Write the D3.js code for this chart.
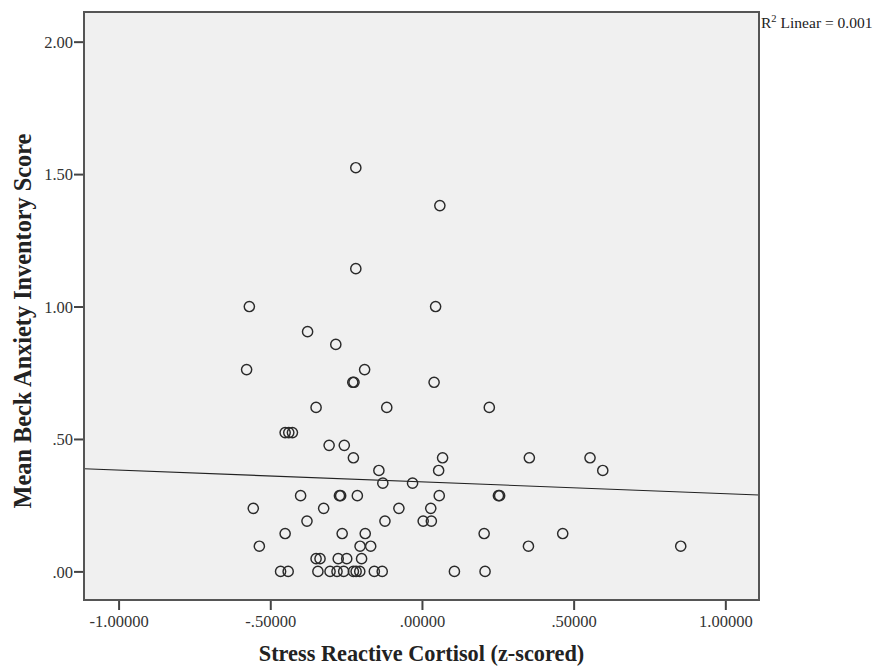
<!DOCTYPE html>
<html>
<head>
<meta charset="utf-8">
<script src="https://cdn.jsdelivr.net/npm/d3@7/dist/d3.min.js"></script>
<style>
  html, body { margin: 0; padding: 0; background: #fff; }
  svg { display: block; }
</style>
</head>
<body>
<svg id="chart" width="877" height="669"></svg>
<script>
// ---- Data ----
const cortisol = [
  -0.218, 0.059, -0.218, -0.569, 0.045, -0.377, -0.284, -0.578, -0.189,
  -0.228, -0.224, 0.040, -0.349, -0.116, 0.222,
  -0.451, -0.439, -0.427,
  -0.306, -0.256, -0.226, 0.068, 0.354, 0.554,
  -0.142, 0.055, 0.596,
  -0.129, -0.031,
  -0.400, -0.272, -0.268, -0.213, 0.057, 0.252, 0.256,
  -0.556, -0.324, -0.076, 0.029,
  -0.379, -0.122, 0.004, 0.031,
  -0.451, -0.263, -0.187, 0.205, 0.464,
  -0.536, -0.204, -0.169, 0.351, 0.853,
  -0.349, -0.336, -0.276, -0.248, -0.199,
  -0.466, -0.441, -0.343, -0.303, -0.280, -0.258, -0.226, -0.217, -0.205,
  -0.157, -0.131, 0.107, 0.208
];
const beckScore = [
  1.524, 1.381, 1.143, 1.000, 1.000, 0.905, 0.857, 0.762, 0.762,
  0.714, 0.714, 0.714, 0.619, 0.619, 0.619,
  0.524, 0.524, 0.524,
  0.476, 0.476, 0.429, 0.429, 0.429, 0.429,
  0.381, 0.381, 0.381,
  0.333, 0.333,
  0.286, 0.286, 0.286, 0.286, 0.286, 0.286, 0.286,
  0.238, 0.238, 0.238, 0.238,
  0.190, 0.190, 0.190, 0.190,
  0.143, 0.143, 0.143, 0.143, 0.143,
  0.095, 0.095, 0.095, 0.095, 0.095,
  0.048, 0.048, 0.048, 0.048, 0.048,
  0, 0, 0, 0, 0, 0, 0, 0, 0,
  0, 0, 0, 0
];
const xTicks = [-1.0, -0.5, 0.0, 0.5, 1.0];
const xTickLabels = ["-1.00000", "-.50000", ".00000", ".50000", "1.00000"];
const yTicks = [0, 0.5, 1.0, 1.5, 2.0];
const yTickLabels = [".00", ".50", "1.00", "1.50", "2.00"];
const fitIntercept = 0.338;
const fitSlope = -0.0445;
const rSquaredLabel = "Linear = 0.001";
const xTitle = "Stress Reactive Cortisol (z-scored)";
const yTitle = "Mean Beck Anxiety Inventory Score";

// ---- Layout ----
const svg = d3.select("#chart");
const pLeft = 84, pRight = 759, pTop = 12, pBottom = 600;
const x = d3.scaleLinear().domain([-1.114, 1.111]).range([pLeft, pRight]);
const y = d3.scaleLinear().domain([-0.108, 2.112]).range([pBottom, pTop]);
const serif = "'Liberation Serif', 'Times New Roman', serif";
const dark = "#333";

// plot background
svg.append("rect")
  .attr("x", pLeft).attr("y", pTop)
  .attr("width", pRight - pLeft).attr("height", pBottom - pTop)
  .attr("fill", "#f0f0f0");

// clip for marks
svg.append("clipPath").attr("id", "plotclip")
  .append("rect").attr("x", pLeft).attr("y", pTop)
  .attr("width", pRight - pLeft).attr("height", pBottom - pTop);

// fit line
const g = svg.append("g").attr("clip-path", "url(#plotclip)");
const xd = x.domain();
g.append("line")
  .attr("x1", x(xd[0])).attr("y1", y(fitIntercept + fitSlope * xd[0]))
  .attr("x2", x(xd[1])).attr("y2", y(fitIntercept + fitSlope * xd[1]))
  .attr("stroke", "#222").attr("stroke-width", 1.1);

// points
g.selectAll("circle.pt")
  .data(cortisol.map((c, i) => [c, beckScore[i]]))
  .join("circle")
  .attr("class", "pt")
  .attr("cx", d => x(d[0]))
  .attr("cy", d => y(d[1]))
  .attr("r", 5.1)
  .attr("fill", "none")
  .attr("stroke", "#2a2a2a")
  .attr("stroke-width", 1.45);

// axes
const xAxis = d3.axisBottom(x).tickValues(xTicks)
  .tickFormat((d, i) => xTickLabels[i]).tickSize(10).tickSizeOuter(0);
const yAxis = d3.axisLeft(y).tickValues(yTicks)
  .tickFormat((d, i) => yTickLabels[i]).tickSize(10).tickSizeOuter(0);

const gx = svg.append("g").attr("transform", `translate(0,${pBottom})`).call(xAxis);
const gy = svg.append("g").attr("transform", `translate(${pLeft},0)`).call(yAxis);
[gx, gy].forEach(a => {
  a.select(".domain").remove();
  a.selectAll(".tick line").attr("stroke", "#444").attr("stroke-width", 2);
  a.selectAll(".tick text")
    .attr("font-family", serif).attr("font-size", 16.5).attr("fill", dark);
});
gx.selectAll(".tick text").attr("dy", "0").attr("y", 27);
gy.selectAll(".tick text").attr("x", -11).attr("dy", "0.34em");

// frame
svg.append("rect")
  .attr("x", pLeft).attr("y", pTop)
  .attr("width", pRight - pLeft).attr("height", pBottom - pTop)
  .attr("fill", "none").attr("stroke", "#555").attr("stroke-width", 2);

// titles
svg.append("text")
  .attr("x", (pLeft + pRight) / 2).attr("y", 661)
  .attr("text-anchor", "middle")
  .attr("font-family", serif).attr("font-weight", "bold").attr("font-size", 22.3)
  .attr("fill", "#222")
  .text(xTitle);

svg.append("text")
  .attr("transform", `translate(31,321) rotate(-90)`)
  .attr("text-anchor", "middle")
  .attr("font-family", serif).attr("font-weight", "bold").attr("font-size", 24.3)
  .attr("fill", "#222")
  .text(yTitle);

// R squared annotation
const rt = svg.append("text")
  .attr("x", 761).attr("y", 28)
  .attr("font-family", serif).attr("font-size", 15.5).attr("fill", "#222");
rt.append("tspan").text("R");
rt.append("tspan").attr("dy", -6).attr("font-size", 10.5).text("2");
rt.append("tspan").attr("dy", 6).attr("dx", 4).text(rSquaredLabel);
</script>
</body>
</html>
